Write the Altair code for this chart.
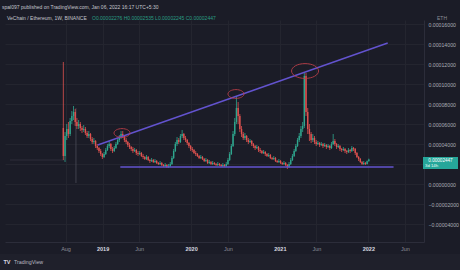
import altair as alt
import pandas as pd

# ---------------- data (prices in units of 1e-6 ETH) ----------------
START = "2018-07-23"          # first weekly candle
FIRST_OPEN = 56
closes = [28, 48, 55, 50, 63, 68, 72, 62, 58, 60,
          56, 54, 55, 51, 48, 50, 45, 42, 43, 38,
          36, 33, 30, 27, 30, 34, 38, 40, 35, 33,
          36, 40, 44, 47, 50, 48, 44, 42, 39, 37,
          35, 33, 34, 31, 30, 31, 28, 27, 25, 27,
          24, 23, 24, 22, 23, 21, 20, 21, 19, 18,
          19, 17, 18, 20, 26, 33, 40, 44, 42, 48,
          50, 46, 44, 41, 38, 35, 34, 31, 30, 28,
          26, 27, 25, 23, 24, 21, 22, 20, 21, 20,
          19, 20, 19, 18, 19, 18, 20, 24, 30, 38,
          50, 62, 76, 68, 55, 50, 46, 48, 44, 42,
          43, 40, 38, 36, 37, 34, 33, 31, 32, 30,
          28, 29, 26, 25, 26, 23, 22, 23, 21, 20,
          21, 19, 17, 20, 24, 28, 33, 38, 44, 48,
          55, 58, 108, 72, 55, 50, 44, 46, 42, 40,
          41, 39, 40, 38, 39, 37, 38, 36, 40, 43,
          40, 37, 38, 35, 34, 35, 33, 32, 34, 33,
          36, 35, 31, 27, 25, 22, 20, 21, 20, 22.76,
          24.47]
highs = [122, 52, 60, 62, 66, 73, 78, 75, 66, 64,
         62, 58, 59, 57, 53, 53, 51, 47, 46, 44,
         40, 37, 35, 31, 32, 36, 40, 43, 41, 37,
         38, 42, 46, 49, 53, 53, 49, 46, 43, 41,
         38, 37, 36, 35, 33, 33, 32, 30, 28, 29,
         28, 25, 26, 25, 25, 24, 22, 23, 22, 20,
         21, 20, 20, 22, 28, 35, 42, 47, 46, 50,
         54, 51, 48, 45, 42, 39, 37, 35, 33, 31,
         29, 29, 28, 26, 26, 25, 24, 23, 23, 22,
         21, 22, 21, 20, 21, 20, 22, 26, 32, 40,
         53, 66, 88, 82, 70, 58, 52, 51, 49, 46,
         45, 44, 41, 39, 39, 38, 36, 34, 34, 33,
         31, 31, 30, 27, 28, 27, 24, 25, 24, 22,
         23, 22, 20, 22, 26, 30, 35, 40, 46, 51,
         58, 62, 112, 111, 76, 60, 52, 50, 48, 44,
         43, 42, 42, 41, 41, 40, 40, 39, 42, 50,
         45, 41, 40, 39, 36, 37, 36, 34, 36, 35,
         38, 37, 36, 32, 28, 26, 23, 23, 22, 23.5,
         25.35]
lows = [24, 22, 44, 46, 48, 60, 64, 58, 55, 55,
        53, 51, 52, 49, 46, 46, 43, 40, 40, 36,
        34, 31, 28, 25, 26, 29, 33, 36, 33, 31,
        32, 35, 39, 42, 45, 46, 42, 40, 37, 35,
        33, 31, 32, 29, 28, 29, 27, 25, 24, 24,
        23, 21, 22, 21, 21, 20, 19, 19, 18, 17,
        17, 16, 16, 17, 19, 25, 32, 38, 40, 41,
        46, 44, 42, 39, 36, 33, 32, 30, 28, 27,
        25, 25, 24, 22, 22, 20, 20, 19, 19, 19,
        18, 18, 18, 17, 17, 17, 17, 19, 23, 29,
        37, 48, 60, 60, 52, 47, 44, 44, 42, 40,
        41, 38, 36, 34, 35, 32, 31, 30, 30, 28,
        27, 27, 25, 24, 24, 22, 21, 21, 20, 19,
        19, 18, 15, 16, 19, 23, 27, 32, 37, 42,
        46, 52, 56, 68, 50, 43, 41, 42, 40, 38,
        39, 37, 38, 36, 37, 35, 36, 34, 35, 39,
        38, 35, 36, 33, 32, 33, 31, 30, 31, 31,
        32, 33, 29, 26, 23, 21, 19, 19, 19, 19.5,
        22.45]

# drawn trendlines / marks (date, value)
trend_dates = ["2018-12-12", "2022-03-22"]
trend_vals = [39, 141]
support_dates = ["2019-03-15", "2022-04-15"]
support_vals = [17, 17]
circle_dates = ["2019-03-22", "2020-07-04", "2021-04-15"]
circle_vals = [51, 90, 113]
cross_v_date = ["2018-09-13", "2018-09-13"]
cross_v_vals = [76, 1]
cross_h_dates = ["2017-12-15", "2018-07-30"]
cross_h_vals = [24, 24]

y_ticks = [-4, -2, 0, 2, 4, 6, 8, 10, 12, 14, 16]   # x 1e-5
x_ticks = [(2018, 8), (2019, 1), (2019, 6), (2020, 1), (2020, 6),
           (2021, 1), (2021, 6), (2022, 1), (2022, 6)]

HEADER1 = "spal097 published on TradingView.com, Jan 06, 2022 16:17 UTC+5:30"
HEADER2 = "VeChain / Ethereum, 1W, BINANCE"
OHLC = "O0.00002276  H0.00002535  L0.00002245  C0.00002447"
UNIT = "ETH"
COUNTDOWN = "3d 14h"
BRAND = "TradingView"

# ---------------- tables ----------------
U = 1e-6
dates = pd.date_range(START, periods=len(closes), freq="7D")
opens = [FIRST_OPEN] + closes[:-1]
candles = pd.DataFrame({
    "date": dates.strftime("%Y-%m-%d"),
    "open": [o * U for o in opens],
    "close": [c * U for c in closes],
    "high": [h * U for h in highs],
    "low": [l * U for l in lows],
})
trend = pd.DataFrame({"date": trend_dates, "v": [v * U for v in trend_vals]})
support = pd.DataFrame({"date": support_dates, "v": [v * U for v in support_vals]})
circles = pd.DataFrame({"date": circle_dates, "v": [v * U for v in circle_vals],
                        "s": [256, 256, 729]})
cross_v = pd.DataFrame({"date": cross_v_date, "v": [v * U for v in cross_v_vals]})
cross_h = pd.DataFrame({"date": cross_h_dates, "v": [v * U for v in cross_h_vals]})
last = pd.DataFrame({"v": [closes[-1] * U]})

# ---------------- style ----------------
BG = "#1b1c27"
GRID = "#24252f"
GREEN = "#2fa68e"
RED = "#e0524f"
PURPLE = "#6353cf"
TXT = "#c8cad2"
MUTED = "#8a8d97"
FONT = "Liberation Sans"
TOP = 20   # plot top in page pixels

x_scale = alt.Scale(domain=[alt.DateTime(year=2017, month=12, date=15),
                            alt.DateTime(year=2022, month=7, date=29)], nice=False)
y_scale = alt.Scale(domain=[-58 * U, 164 * U], nice=False, zero=False)

x_axis = alt.Axis(
    values=[alt.DateTime(year=y, month=m, date=1) for y, m in x_ticks],
    labelExpr="month(datum.value) == 0 ? timeFormat(datum.value, '%Y') : timeFormat(datum.value, '%b')",
    labelColor={"condition": {"test": "month(datum.value) == 0", "value": "#d8dae0"}, "value": MUTED},
    labelFontWeight={"condition": {"test": "month(datum.value) == 0", "value": "bold"}, "value": "normal"},
    labelFontSize=5.5, labelFont=FONT, labelPadding=4, ticks=False,
    domain=True, domainColor="#2c2d3a", grid=True, gridColor=GRID, title=None,
    labelFlush=False, labelOverlap=False,
)
y_axis = alt.Axis(
    orient="right", values=[t * 1e-5 for t in y_ticks],
    labelExpr="abs(datum.value - 0.00002) < 1e-9 ? '' : format(datum.value, '.8f')",
    labelFontSize=5.2, labelFont=FONT, labelColor="#a9acb5", labelAlign="left",
    labelPadding=4, ticks=False, domain=True, domainColor="#2c2d3a",
    grid=True, gridColor=GRID, title=None, labelOverlap=False,
)

X = lambda f="date": alt.X(f"{f}:T", scale=x_scale, axis=x_axis, title=None)
Y = lambda f="v": alt.Y(f"{f}:Q", scale=y_scale, axis=y_axis, title=None)

color_cond = alt.condition("datum.open <= datum.close", alt.value(GREEN), alt.value(RED))

wicks = alt.Chart(candles).mark_rule(strokeWidth=0.8).encode(
    x=X(), y=Y("low"), y2="high:Q", color=color_cond)
bodies = alt.Chart(candles).mark_bar(size=1.4).encode(
    x=X(), y=Y("open"), y2="close:Q", color=color_cond)

cross_v_l = alt.Chart(cross_v).mark_line(color="#4a4b58", strokeWidth=0.8).encode(x=X(), y=Y())
cross_h_l = alt.Chart(cross_h).mark_line(color="#33343f", strokeWidth=0.8).encode(x=X(), y=Y())

trend_l = alt.Chart(trend).mark_line(color=PURPLE, strokeWidth=1.4).encode(x=X(), y=Y())
support_l = alt.Chart(support).mark_line(color=PURPLE, strokeWidth=1.4).encode(x=X(), y=Y())

ELLIPSE = "M-1,0A1,0.55,0,1,1,1,0A1,0.55,0,1,1,-1,0Z"
circ = alt.Chart(circles).mark_point(shape=ELLIPSE, filled=False, color="#c2404a",
                                     strokeWidth=1, opacity=0.85).encode(
    x=X(), y=Y(), size=alt.Size("s:Q", scale=None, legend=None))

# price tag on the axis
BOX = "M-1,-0.343L1,-0.343L1,0.343L-1,0.343Z"
tag = alt.Chart(last).mark_point(shape=BOX, filled=True, color="#26a69a", opacity=1,
                                 size=1225, yOffset=3.5).encode(x=alt.value(435.5), y=Y())
tag_t1 = alt.Chart(last).mark_text(align="center", baseline="middle", fontSize=4.6,
                                   font=FONT, color="#ffffff", dy=1).encode(
    x=alt.value(435.5), y=Y(), text=alt.Text("v:Q", format=".8f"))
tag_t2 = alt.Chart(pd.DataFrame({"t": [COUNTDOWN], "v": [closes[-1] * U]})).mark_text(
    align="left", baseline="middle", fontSize=4.3, font=FONT, color="#e8fff8", dy=6.5).encode(
    x=alt.value(420), y=Y(), text="t:N")


def label(text, x, y, size=5, color=TXT, weight="normal"):
    return alt.Chart(pd.DataFrame({"t": [text]})).mark_text(
        align="left", baseline="middle", fontSize=size, font=FONT, color=color,
        fontWeight=weight).encode(x=alt.value(x), y=alt.value(y - TOP), text="t:N")


bottom_bar = alt.Chart(pd.DataFrame({"a": [0]})).mark_rect(color="#1f202b").encode(
    x=alt.value(-5), x2=alt.value(455), y=alt.value(254 - TOP), y2=alt.value(270 - TOP))

texts = [
    label(HEADER1, -3, 7, 5, "#c4c6cd"),
    label(HEADER2, 2, 17.5, 5, "#c4c6cd"),
    label(OHLC, 87, 17.5, 5, "#2a9d84"),
    label(UNIT, 432, 17.5, 5, MUTED),
    label("TV", -1.5, 262, 5.5, "#d8dae0", "bold"),
    label(BRAND, 9, 262, 5.3, "#b8bac2"),
]

chart = alt.layer(
    bottom_bar, cross_h_l, cross_v_l, wicks, bodies, trend_l, support_l, circ,
    tag, tag_t1, tag_t2, *texts
).properties(
    width=419, height=222, autosize="none",
    padding={"left": 5, "top": TOP, "right": 36, "bottom": 28},
    background=BG,
).configure_view(stroke=None)

chart.save("out.html", embed_options={"renderer": "svg", "actions": False})
